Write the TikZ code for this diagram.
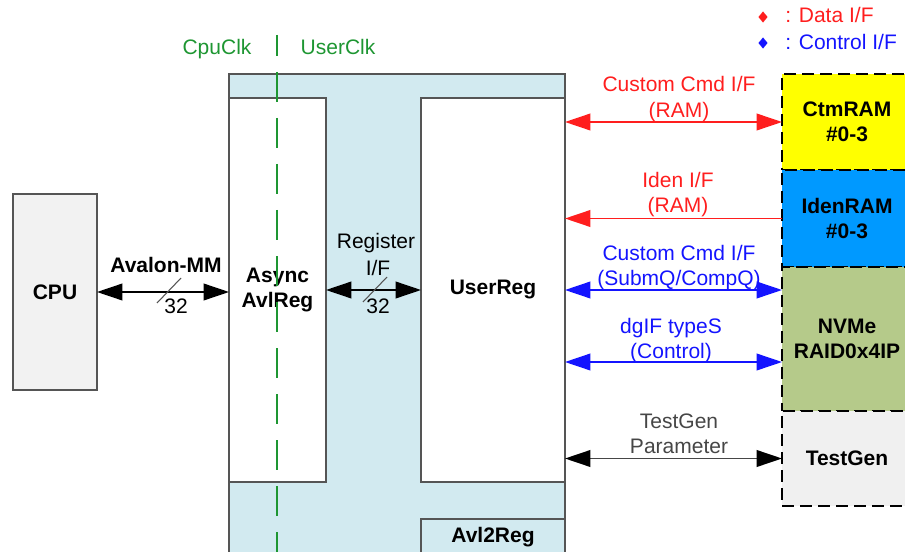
\documentclass[tikz,border=0pt]{standalone}
\usepackage{fontspec}
\setmainfont{Liberation Sans}
\usetikzlibrary{arrows.meta,shapes.geometric,calc}

\definecolor{panelblue}{RGB}{210,234,240}
\definecolor{edgegray}{RGB}{85,85,85}
\definecolor{cpugray}{RGB}{242,242,242}
\definecolor{tggray}{RGB}{240,240,240}
\definecolor{ramyellow}{RGB}{255,255,0}
\definecolor{ramblue}{RGB}{0,153,255}
\definecolor{ipgreen}{RGB}{181,202,138}
\definecolor{clkgreen}{RGB}{30,150,50}
\definecolor{datared}{RGB}{255,30,30}
\definecolor{ctlblue}{RGB}{20,20,255}
\definecolor{parmgray}{RGB}{70,70,70}

% box from (x1,y1) to (x2,y2) in pixel units
\newcommand\blk[7]{%
  \node[#6, minimum width={(#4-#2)*0.75pt}, minimum height={(#5-#3)*0.75pt}]
    (#1) at ({(#2+#4)/2},{(#3+#5)/2}) {#7};}

\tikzset{
  box/.style={draw=edgegray, line width=1.1pt, inner sep=0pt, outer sep=0pt,
    align=center, font=\fontsize{15.75}{19}\selectfont\bfseries},
  ext/.style={box, draw=black, line width=1.5pt, dash pattern=on 9pt off 4.5pt},
  lbl/.style={inner sep=0pt, anchor=base},
  both/.style={line width=1.2pt, {Triangle[length=19pt,width=12.5pt,#1]}-{Triangle[length=19pt,width=12.5pt,#1]}},
  oneway/.style={line width=1.2pt, -{Triangle[length=19pt,width=12.5pt,#1]}},
  slash/.style={draw=edgegray, line width=0.8pt},
  clk/.style={draw=clkgreen, line width=1.5pt, dash pattern=on 22.5pt off 12pt, dash phase=6.75pt},
  key/.style={diamond, inner sep=0pt, minimum width=7pt, minimum height=8.5pt}
}

\begin{document}
\begin{tikzpicture}[x=0.75pt,y=-0.75pt,
  every node/.style={font=\fontsize{15.75}{19.5}\selectfont}]
\useasboundingbox (0,0) rectangle (905,552);

% core panel with its sub-blocks
\blk{core}{229}{74}{565}{580}{box, fill=panelblue}{}
\blk{async}{229}{98}{326}{482}{box, fill=white}{Async\\AvlReg}
\blk{userreg}{421}{98}{565}{482}{box, fill=white}{UserReg}
\blk{avl2reg}{421}{519}{565}{580}{box, fill=panelblue}{}
\node[lbl, font=\fontsize{15.75}{19}\selectfont\bfseries] (avl2regtxt) at (493,542) {Avl2Reg};

% host side
\blk{cpu}{13}{194}{97}{390}{box, fill=cpugray}{CPU}

% external blocks
\blk{ctm}{782}{74}{912}{170}{ext, fill=ramyellow}{CtmRAM\\\#0-3}
\blk{iden}{782}{170}{912}{267}{ext, fill=ramblue}{IdenRAM\\\#0-3}
\blk{nvme}{782}{267}{912}{411}{ext, fill=ipgreen}{NVMe\\RAID0x4IP}
\blk{tg}{782}{411}{912}{506}{ext, fill=tggray}{TestGen}

% clock domain boundary
\coordinate (clktop) at (277,35);
\coordinate (clkbot) at (277,570);
\draw[clk] (clktop) -- (clkbot);
\node[lbl, text=clkgreen] (cpuclk) at (217,55) {CpuClk};
\node[lbl, text=clkgreen] (userclk) at (338,55) {UserClk};

% legend
\node[key, fill=datared] (dkey) at (763,17) {};
\node[lbl, anchor=base west, text=datared] (dtxt) at (785,23) {: Data I/F};
\node[key, fill=ctlblue] (ckey) at (763,43) {};
\node[lbl, anchor=base west, text=ctlblue] (ctxt) at (785,50) {: Control I/F};

% Avalon-MM bus
\draw[both=black, draw=black] (cpu.east) -- (cpu.east -| async.west);
\draw[slash] (157,303) -- (181,278);
\node[lbl, font=\fontsize{15.75}{19}\selectfont\bfseries] (avtxt) at (166,272) {Avalon-MM};
\node[lbl] (avw) at (176,313) {32};

% register bus
\draw[both=black, draw=black] (async.east) -- (async.east -| userreg.west);
\draw[slash] (363,302) -- (387,277);
\node[lbl] (regtxt1) at (376,248) {Register};
\node[lbl] (regtxt2) at (378,275) {I/F};
\node[lbl] (regw) at (378,313) {32};

% user-side interfaces
\draw[both=datared, draw=datared] (ctm.west -| userreg.east) -- (ctm.west);
\node[lbl, text=datared] (c1a) at (679,92) {Custom Cmd I/F};
\node[lbl, text=datared] (c1b) at (679,118) {(RAM)};

\draw[oneway=datared, draw=datared] (iden.west) -- (iden.west -| userreg.east);
\node[lbl, text=datared] (i1a) at (678,188) {Iden I/F};
\node[lbl, text=datared] (i1b) at (678,213) {(RAM)};

\coordinate (nq) at ([yshift=36.75pt]nvme.west);
\coordinate (nc) at ([yshift=-17.25pt]nvme.west);
\draw[both=ctlblue, draw=ctlblue] (nq -| userreg.east) -- (nq);
\node[lbl, text=ctlblue] (q1a) at (679,260) {Custom Cmd I/F};
\node[lbl, text=ctlblue] (q1b) at (679,285) {(SubmQ/CompQ)};

\draw[both=ctlblue, draw=ctlblue] (nc -| userreg.east) -- (nc);
\node[lbl, text=ctlblue] (d1a) at (671,333) {dgIF typeS};
\node[lbl, text=ctlblue] (d1b) at (671,358) {(Control)};

\draw[both=black, draw=parmgray] (tg.west -| userreg.east) -- (tg.west);
\node[lbl, text=parmgray] (t1a) at (679,428) {TestGen};
\node[lbl, text=parmgray] (t1b) at (679,453) {Parameter};
\end{tikzpicture}
\end{document}
